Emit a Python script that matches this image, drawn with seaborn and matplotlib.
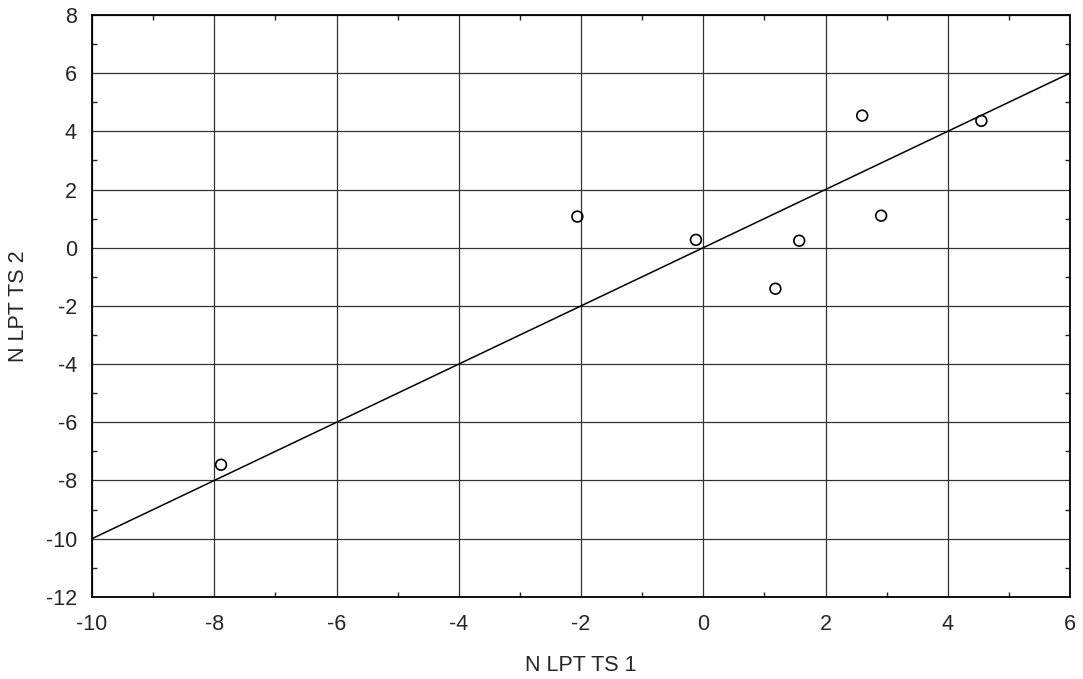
import seaborn as sns
import matplotlib.pyplot as plt
import pandas as pd
from matplotlib.ticker import MultipleLocator

# Datos
ts1 = [-7.89, -2.06, -0.12, 1.18, 1.57, 2.60, 2.91, 4.55]
ts2 = [-7.46, 1.07, 0.27, -1.41, 0.24, 4.54, 1.10, 4.36]

# Recta de referencia y = x
linea_x = [-10, 6]
linea_y = [-10, 6]

sns.set_style("ticks")
plt.rcParams['font.family'] = ['Liberation Sans', 'DejaVu Sans']
plt.rcParams['axes.unicode_minus'] = False

fig = plt.figure(figsize=(10.83, 6.79), dpi=100)
ax = fig.add_axes([0.085, 0.121, 0.903, 0.857])

datos = pd.DataFrame({'N LPT TS 1': ts1, 'N LPT TS 2': ts2})
recta = pd.DataFrame({'x': linea_x, 'y': linea_y})

sns.lineplot(x='x', y='y', data=recta, color='black', linewidth=1.1, ax=ax, zorder=3)
sns.scatterplot(x='N LPT TS 1', y='N LPT TS 2', data=datos, ax=ax, s=60,
                facecolor='none', edgecolor='black', linewidth=1.2, zorder=4)

ax.set_xlim(-10, 6)
ax.set_ylim(-12, 8)
ax.xaxis.set_major_locator(MultipleLocator(2))
ax.yaxis.set_major_locator(MultipleLocator(2))
ax.xaxis.set_minor_locator(MultipleLocator(1))
ax.yaxis.set_minor_locator(MultipleLocator(1))
ax.grid(True, which='major', color='#333333', linewidth=0.9)
ax.tick_params(which='both', direction='in', top=True, right=True, labelsize=15.5)
ax.tick_params(axis='x', which='major', pad=12)
ax.tick_params(axis='y', which='major', pad=11)
ax.tick_params(which='major', length=0)
ax.tick_params(which='minor', length=3.5, width=1)
for s in ax.spines.values():
    s.set_linewidth(1.3)
    s.set_color('black')

ax.set_xlabel('N LPT TS 1', fontsize=15.5, labelpad=15)
ax.set_ylabel('N LPT TS 2', fontsize=15.5, labelpad=12)

fig.savefig('out.png', dpi=100)
